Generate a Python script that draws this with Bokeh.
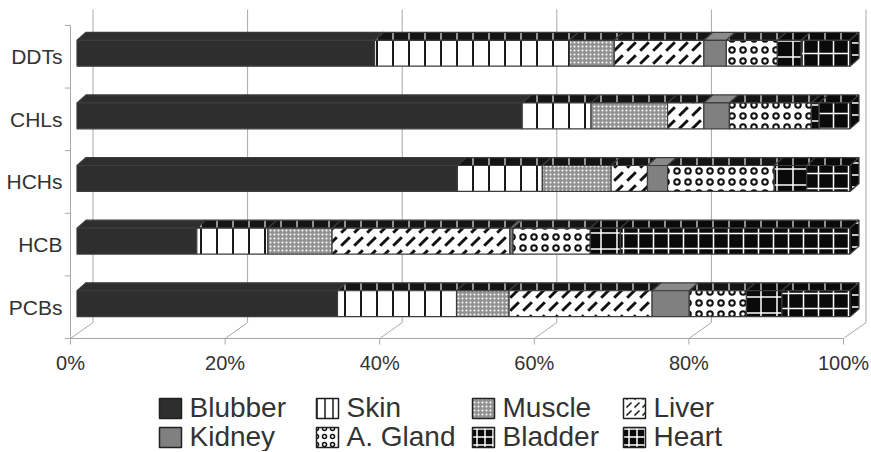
from bokeh.plotting import figure
from bokeh.layouts import column
from bokeh.models import (Range1d, FixedTicker, PrintfTickFormatter, ColumnDataSource)
from bokeh.core.properties import value
from bokeh.embed import file_html
from bokeh.resources import INLINE

# ---------------- data (percent of total body burden) ----------------
categories = ["PCBs", "HCB", "HCHs", "CHLs", "DDTs"]          # bottom -> top
tissues = ["Blubber", "Skin", "Muscle", "Liver", "Kidney", "A. Gland", "Bladder", "Heart"]

blubber = [33.7, 15.5, 49.2, 57.6, 38.5]
skin    = [15.4, 9.2, 11.0, 8.9, 25.2]
muscle  = [6.8, 8.3, 8.9, 9.9, 5.8]
liver   = [18.5, 23.0, 4.7, 4.7, 11.6]
kidney  = [4.8, 0.4, 2.6, 3.3, 2.9]
agland  = [7.4, 10.0, 13.8, 10.6, 6.6]
bladder = [4.6, 3.9, 4.2, 1.0, 3.1]
heart   = [8.8, 29.7, 5.6, 4.0, 6.3]
series = [blubber, skin, muscle, liver, kidney, agland, bladder, heart]

x_ticks = [0, 20, 40, 60, 80, 100]

# ---------------- styles ----------------
front_fill  = ["#2e2e2e", "#ffffff", "#929292", "#ffffff", "#808080", "#ffffff", "#0a0a0a", "#0a0a0a"]
front_hatch = [None, "vertical_line", "dot", "right_diagonal_dash", None, "ring", "cross", "cross"]
hatch_col   = ["#000000", "#1a1a1a", "#ffffff", "#111111", "#000000", "#111111", "#ffffff", "#ffffff"]
hatch_scale = [12, 16, 4, 13, 12, 11, 16, 15]
hatch_w     = [1, 2, 1, 3, 1, 2, 1.5, 1.5]
top_fill    = ["#2e2e2e", "#151515", "#151515", "#151515", "#8a8a8a", "#151515", "#0a0a0a", "#0a0a0a"]
OUT = "#3c3c3c"
GRID = "#a8a8a8"
TXT = "#333333"
FONT = "Liberation Sans"

# ---------------- pixel geometry (image coordinates) ----------------
FIG_W = 870
MAIN_H = 376
LEG_H = 75
FRAME_L, FRAME_R, FRAME_T, FRAME_B = 64, 868, 0, 348
X0, X100 = 70, 843          # front plane 0% / 100%
Y_FLOOR, Y_TOP = 339, 25    # front plane floor / top
BACK_DX, BACK_DY = 22.5, 16   # depth of the 3-D box
BAR_DX, BAR_DY = 6.5, 3.5     # bar front face offset into the box
BAR_H = 26
TOP_DX, TOP_DY = 9, 8         # bar top face depth

SX = (X100 - X0) / 100.0
SY = (Y_FLOOR - Y_TOP) / 5.0
xr = Range1d(-(X0 - FRAME_L) / SX, (FRAME_R - X0) / SX)
yr = Range1d(-(FRAME_B - Y_FLOOR) / SY, (Y_FLOOR - FRAME_T) / SY)

p = figure(width=FIG_W, height=MAIN_H, x_range=xr, y_range=yr,
           output_backend="svg", toolbar_location=None,
           min_border_left=FRAME_L, min_border_right=FIG_W - FRAME_R,
           min_border_top=FRAME_T, min_border_bottom=MAIN_H - FRAME_B)
p.outline_line_color = None
p.grid.visible = False
p.background_fill_color = "white"

p.extra_x_ranges = {"bar": Range1d(xr.start - BAR_DX / SX, xr.end - BAR_DX / SX)}
p.extra_y_ranges = {"bar": Range1d(yr.start - BAR_DY / SY, yr.end - BAR_DY / SY)}

bdx, bdy = BACK_DX / SX, BACK_DY / SY
ncat = len(categories)

# back wall gridlines and floor diagonals
p.segment(x0=[t + bdx for t in x_ticks], y0=[bdy] * len(x_ticks),
          x1=[t + bdx for t in x_ticks], y1=[ncat + bdy] * len(x_ticks),
          line_color=GRID, line_width=1)
p.segment(x0=x_ticks, y0=[0] * len(x_ticks),
          x1=[t + bdx for t in x_ticks], y1=[bdy] * len(x_ticks),
          line_color=GRID, line_width=1)
# floor front edge and left axis line
p.segment(x0=[x_ticks[0], x_ticks[0]], y0=[0, 0], x1=[x_ticks[-1], x_ticks[0]], y1=[0, ncat],
          line_color=GRID, line_width=1)
# tick marks
p.segment(x0=x_ticks, y0=[0] * len(x_ticks), x1=x_ticks, y1=[-6 / SY] * len(x_ticks),
          line_color=GRID, line_width=1)
cat_edges = list(range(ncat + 1))
p.segment(x0=[0] * len(cat_edges), y0=cat_edges, x1=[-6 / SX] * len(cat_edges), y1=cat_edges,
          line_color=GRID, line_width=1)

# ---------------- stacked 3-D bars ----------------
yc = [i + 0.5 for i in range(ncat)]
h = BAR_H / SY
tdx, tdy = TOP_DX / SX, TOP_DY / SY
cum = [0.0] * ncat
for k, name in enumerate(tissues):
    vals = series[k]
    left = cum[:]
    right = [cum[i] + vals[i] for i in range(ncat)]
    cum = right
    hatch_kw = {}
    if front_hatch[k]:
        hatch_kw = dict(hatch_pattern=front_hatch[k], hatch_color=hatch_col[k],
                        hatch_scale=hatch_scale[k], hatch_weight=hatch_w[k])
    # top faces
    xs = [[left[i], right[i], right[i] + tdx, left[i] + tdx] for i in range(ncat)]
    ys = [[yc[i] + h / 2, yc[i] + h / 2, yc[i] + h / 2 + tdy, yc[i] + h / 2 + tdy] for i in range(ncat)]
    top_kw = {}
    if front_hatch[k]:
        top_kw = dict(hatch_pattern="vertical_line", hatch_color="#e8e8e8",
                      hatch_scale=16, hatch_weight=1.2)
    p.patches(xs=xs, ys=ys, fill_color=top_fill[k], line_color=OUT, line_width=1.2,
              x_range_name="bar", y_range_name="bar", **top_kw)
    src = ColumnDataSource(dict(y=yc, left=left, right=right))
    p.hbar(y="y", left="left", right="right", height=h, source=src,
           fill_color=front_fill[k], line_color=OUT, line_width=1.2,
           x_range_name="bar", y_range_name="bar", **hatch_kw)

# right-hand end faces
xs = [[cum[i], cum[i] + tdx, cum[i] + tdx, cum[i]] for i in range(ncat)]
ys = [[yc[i] - h / 2, yc[i] - h / 2 + tdy, yc[i] + h / 2 + tdy, yc[i] + h / 2] for i in range(ncat)]
p.patches(xs=xs, ys=ys, fill_color="#0a0a0a", line_color=OUT, line_width=1.2,
          hatch_pattern="horizontal_dash", hatch_color="#ffffff", hatch_scale=12, hatch_weight=1.5,
          x_range_name="bar", y_range_name="bar")

# ---------------- axes ----------------
p.xaxis.ticker = FixedTicker(ticks=x_ticks, minor_ticks=[])
p.xaxis.formatter = PrintfTickFormatter(format="%d%%")
p.yaxis.ticker = FixedTicker(ticks=yc, minor_ticks=[])
p.yaxis.major_label_overrides = {yc[i]: categories[i] for i in range(ncat)}
for ax in (p.xaxis[0], p.yaxis[0]):
    ax.axis_line_color = None
    ax.major_tick_line_color = None
    ax.minor_tick_line_color = None
    ax.major_tick_out = 0
    ax.major_tick_in = 0
    ax.major_label_text_font = FONT
    ax.major_label_text_color = TXT
p.xaxis.major_label_text_font_size = "20px"
p.xaxis.major_label_standoff = 4
p.yaxis.major_label_text_font_size = "21px"
p.yaxis.major_label_standoff = 2

# ---------------- legend (separate strip below the chart) ----------------
LEG_TOP = MAIN_H                      # image y of the legend strip
col_x = [159, 316, 472, 623]          # swatch left edges (image px)
row_mid = [407, 436]                  # row centres (image px)
SW_W, SW_H, TXT_GAP = 22, 20, 8

lg = figure(width=FIG_W, height=LEG_H, x_range=Range1d(FRAME_L, FRAME_R),
            y_range=Range1d(LEG_TOP + LEG_H, LEG_TOP),
            output_backend="svg", toolbar_location=None,
            min_border_left=FRAME_L, min_border_right=FIG_W - FRAME_R,
            min_border_top=0, min_border_bottom=0,
            x_axis_type=None, y_axis_type=None)
lg.outline_line_color = None
lg.grid.visible = False

for k, name in enumerate(tissues):
    cx = col_x[k % 4]
    cy = row_mid[k // 4]
    hatch_kw = {}
    if front_hatch[k]:
        hatch_kw = dict(hatch_pattern=front_hatch[k], hatch_color=hatch_col[k],
                        hatch_scale=min(hatch_scale[k], 8), hatch_weight=min(hatch_w[k], 1.5))
    lg.rect(x=[cx + SW_W / 2], y=[cy + 1], width=SW_W, height=SW_H,
            fill_color=front_fill[k], line_color="#202020", line_width=1.5, **hatch_kw)
    lg.text(x=[cx + SW_W + TXT_GAP], y=[cy], text=[name],
            text_font=value(FONT), text_font_size="28px", text_color=TXT,
            text_baseline="middle", text_align="left")

layout = column(p, lg, spacing=0)
open("out.html", "w").write(file_html(layout, INLINE))
